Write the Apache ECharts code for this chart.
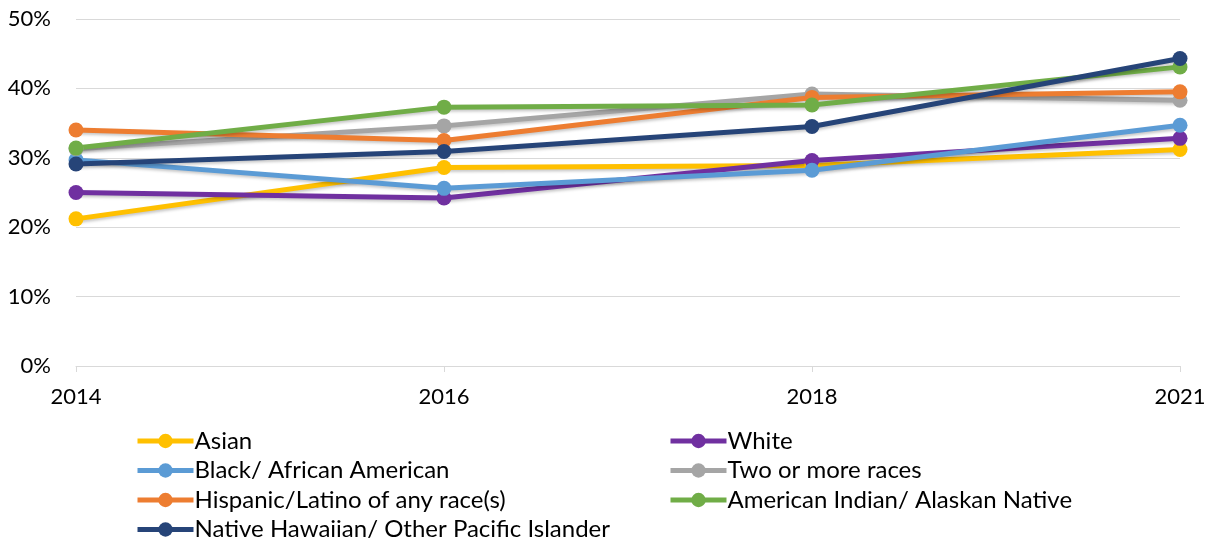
<!DOCTYPE html>
<html>
<head>
<meta charset="utf-8">
<script src="https://cdn.jsdelivr.net/npm/echarts@6/dist/echarts.min.js"></script>
<style>
  html, body { margin: 0; padding: 0; background: #fff; }
  #chart { width: 1214px; height: 542px; }
</style>
</head>
<body>
<div id="chart"></div>
<script>
// Survey years on the horizontal axis
const years = ['2014', '2016', '2018', '2021'];

// Share (%) for each group by year
const asian = [21.2, 28.6, 28.9, 31.2];
const white = [25.0, 24.2, 29.6, 32.8];
const black = [29.7, 25.6, 28.2, 34.7];
const twoOrMore = [31.3, 34.6, 39.2, 38.3];
const hispanic = [34.0, 32.5, 38.7, 39.5];
const amIndian = [31.4, 37.3, 37.6, 43.1];
const nativeHawaiian = [29.1, 30.9, 34.5, 44.3];

const yTicks = [0, 10, 20, 30, 40, 50];

const groups = [
  { name: 'Asian', data: asian, color: '#FFC000' },
  { name: 'White', data: white, color: '#7030A0' },
  { name: 'Black/ African American', data: black, color: '#5B9BD5' },
  { name: 'Two or more races', data: twoOrMore, color: '#A5A5A5' },
  { name: 'Hispanic/Latino of any race(s)', data: hispanic, color: '#ED7D31' },
  { name: 'American Indian/ Alaskan Native', data: amIndian, color: '#70AD47' },
  { name: 'Native Hawaiian/ Other Pacific Islander', data: nativeHawaiian, color: '#264478' }
];

const font = 'Lato, "Open Sans", sans-serif';

const legendBase = {
  orient: 'vertical',
  itemWidth: 56,
  itemHeight: 18,
  itemGap: 5.5,
  height: 130,
  lineStyle: { width: 5 },
  textStyle: { fontFamily: font, fontSize: 24, color: '#000', padding: [0, 0, 0, -4] },
  padding: 0
};

const chart = echarts.init(document.getElementById('chart'), null, { renderer: 'canvas' });
chart.setOption({
  animation: false,
  backgroundColor: '#fff',
  grid: { left: 76, right: 34, top: 19, bottom: 176 },
  xAxis: {
    type: 'category',
    data: years,
    boundaryGap: false,
    axisLine: { lineStyle: { color: '#D9D9D9', width: 1 } },
    axisTick: { show: true, alignWithLabel: true, length: 6, lineStyle: { color: '#D9D9D9' } },
    axisLabel: { color: '#000', fontFamily: font, fontSize: 22, margin: 20 }
  },
  yAxis: {
    type: 'value',
    min: yTicks[0],
    max: yTicks[yTicks.length - 1],
    interval: 10,
    axisLine: { show: false },
    axisTick: { show: false },
    axisLabel: { color: '#000', fontFamily: font, fontSize: 22, margin: 25, formatter: v => v + '%' },
    splitLine: { lineStyle: { color: '#D9D9D9', width: 1 } }
  },
  legend: [
    Object.assign({}, legendBase, {
      left: 135, top: 429,
      data: [groups[0].name, groups[2].name, groups[4].name, groups[6].name]
    }),
    Object.assign({}, legendBase, {
      left: 668, top: 429,
      data: [groups[1].name, groups[3].name, groups[5].name]
    })
  ],
  series: groups.map(g => ({
    name: g.name,
    type: 'line',
    data: g.data,
    color: g.color,
    symbol: 'circle',
    symbolSize: 15,
    lineStyle: {
      width: 5,
      color: g.color,
      shadowColor: 'rgba(0,0,0,0.22)',
      shadowBlur: 3,
      shadowOffsetX: 1,
      shadowOffsetY: 2
    },
    itemStyle: { color: g.color }
  }))
});
</script>
</body>
</html>
